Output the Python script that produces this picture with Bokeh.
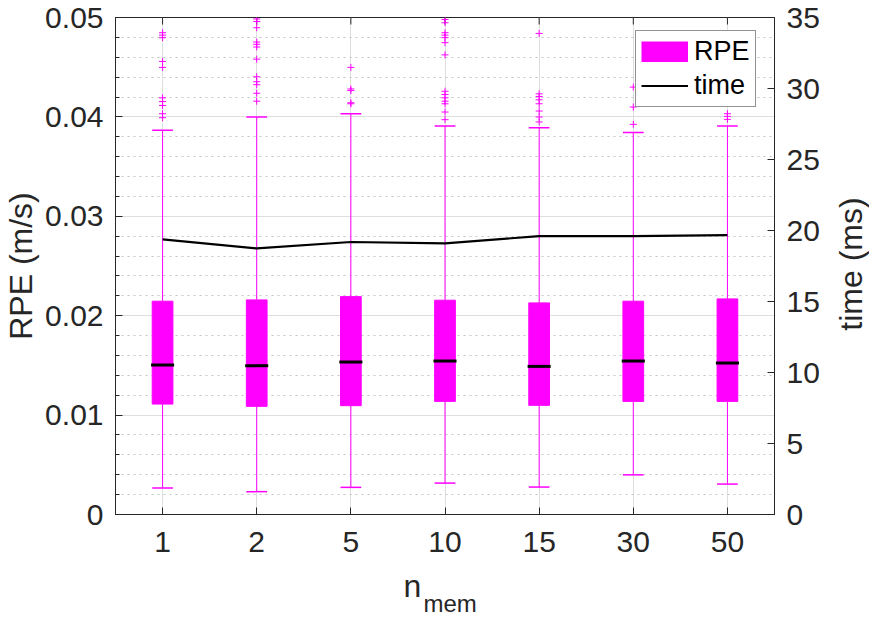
from bokeh.plotting import figure
from bokeh.layouts import column, row
from bokeh.models import (FactorRange, Range1d, LinearAxis,
                          SingleIntervalTicker, ColumnDataSource, Legend,
                          LegendItem, Label)
from bokeh.embed import file_html
from bokeh.resources import INLINE

# ---------------- data ----------------
categories = ["1", "2", "5", "10", "15", "30", "50"]
q1 = [0.01111, 0.01088, 0.01095, 0.01138, 0.01098, 0.01138, 0.01138]
median = [0.01504, 0.01497, 0.01534, 0.01544, 0.01490, 0.01544, 0.01524]
q3 = [0.02146, 0.02159, 0.02192, 0.02156, 0.02129, 0.02146, 0.02169]
whisker_low = [0.00266, 0.00230, 0.00273, 0.00316, 0.00276, 0.00399, 0.00306]
whisker_high = [0.03865, 0.03999, 0.04032, 0.03909, 0.03892, 0.03842, 0.03909]
time_ms = [19.37, 18.74, 19.19, 19.09, 19.61, 19.61, 19.68]

outliers_1 = [0.04847, 0.04823, 0.04797, 0.04558, 0.04498, 0.04192, 0.04155,
              0.04115, 0.04032, 0.03992]
outliers_2 = [0.04985, 0.04960, 0.04897, 0.04753, 0.04730, 0.04703, 0.04581,
              0.04404, 0.04354, 0.04324, 0.04238, 0.04158]
outliers_5 = [0.04498, 0.04281, 0.04265, 0.04142, 0.04132]
outliers_10 = [0.04980, 0.04947, 0.04847, 0.04823, 0.04797, 0.04747, 0.04624,
               0.04258, 0.04225, 0.04192, 0.04158, 0.04132, 0.04049, 0.03972]
outliers_15 = [0.04840, 0.04232, 0.04205, 0.04172, 0.04132, 0.04059, 0.03999,
               0.03949]
outliers_30 = [0.04300, 0.04099, 0.03925]
outliers_50 = [0.04250, 0.04032, 0.04005, 0.03975]

rpe_limits = (0, 0.05)
time_limits = (0, 35)
y_ticks_step = 0.01
time_ticks_step = 5

MAGENTA = "#ff00ff"
AXC = "#262626"
FONT = "Liberation Sans"

# ---------------- main figure ----------------
p = figure(width=833, height=566,
           x_range=FactorRange(*categories),
           y_range=Range1d(*rpe_limits),
           output_backend="svg", toolbar_location=None,
           min_border_left=111, min_border_right=59,
           min_border_top=17, min_border_bottom=52)
p.extra_y_ranges = {"time": Range1d(*time_limits)}
p.outline_line_color = AXC
p.background_fill_color = "white"
p.border_fill_color = "white"

# grids
p.xgrid.grid_line_color = "#dedede"
p.ygrid.grid_line_color = "#dedede"
p.ygrid.minor_grid_line_color = "#c4c4c4"
p.ygrid.minor_grid_line_dash = "2 4"

# left axis
yax = p.yaxis[0]
yax.ticker = SingleIntervalTicker(interval=y_ticks_step, num_minor_ticks=5)
yax.major_label_overrides = {0: "0"}
yax.axis_label = "RPE (m/s)"
yax.axis_label_text_font = FONT
yax.axis_label_text_font_size = "32px"
yax.axis_label_text_font_style = "normal"
yax.axis_label_text_color = AXC
yax.axis_label_standoff = 3

for ax in (yax, p.xaxis[0]):
    ax.major_label_text_font = FONT
    ax.major_label_text_font_size = "30px"
    ax.major_label_text_color = AXC
    ax.major_tick_in = 7
    ax.major_tick_out = 0
    ax.minor_tick_in = 4
    ax.minor_tick_out = 0
    ax.axis_line_color = AXC
    ax.major_tick_line_color = AXC
    ax.minor_tick_line_color = AXC
    ax.major_label_standoff = 12

p.xaxis[0].major_label_standoff = 17

# right axis
rax = LinearAxis(y_range_name="time",
                 ticker=SingleIntervalTicker(interval=time_ticks_step, num_minor_ticks=0))
rax.major_label_text_font = FONT
rax.major_label_text_font_size = "30px"
rax.major_label_text_color = AXC
rax.major_tick_in = 7
rax.major_tick_out = 0
rax.minor_tick_line_color = None
rax.axis_line_color = AXC
rax.major_tick_line_color = AXC
rax.major_label_standoff = 12
p.add_layout(rax, "right")

# ---------------- glyphs ----------------
src = ColumnDataSource(dict(cat=categories, q1=q1, med=median, q3=q3,
                            lo=whisker_low, hi=whisker_high, t=time_ms,
                            top=[rpe_limits[1]] * len(categories)))

# tick marks on the top edge of the box (half of each rect is clipped away)
p.rect(x="cat", y="top", width=1, width_units="screen", height=14,
       height_units="screen", source=src, fill_color=AXC, line_color=None)

p.segment(x0="cat", y0="q3", x1="cat", y1="hi", source=src,
          line_color=MAGENTA, line_width=1)
p.segment(x0="cat", y0="lo", x1="cat", y1="q1", source=src,
          line_color=MAGENTA, line_width=1)
p.vbar(x="cat", width=0.22, bottom="q1", top="q3", source=src,
       fill_color=MAGENTA, line_color=MAGENTA, line_width=1)
p.rect(x="cat", y="hi", width=0.22, height=1.5, height_units="screen",
       source=src, fill_color=MAGENTA, line_color=None)
p.rect(x="cat", y="lo", width=0.22, height=1.5, height_units="screen",
       source=src, fill_color=MAGENTA, line_color=None)
p.rect(x="cat", y="med", width=0.245, height=3, height_units="screen",
       source=src, fill_color="black", line_color=None)

out_groups = [outliers_1, outliers_2, outliers_5, outliers_10,
              outliers_15, outliers_30, outliers_50]
ox, oy = [], []
for c, vals in zip(categories, out_groups):
    ox += [c] * len(vals)
    oy += vals
p.scatter(x=ox, y=oy, marker="cross", size=7, line_color=MAGENTA,
          line_width=1)

r_time = p.line(x="cat", y="t", source=src, y_range_name="time",
                line_color="black", line_width=2.2)
# legend proxy for the RPE boxes (single point -> nothing drawn in the plot)
r_rpe = p.line(x=[categories[0]], y=[-1.0], line_color=MAGENTA,
               line_width=21, line_cap="butt")

legend = Legend(items=[LegendItem(label="RPE", renderers=[r_rpe]),
                       LegendItem(label="time", renderers=[r_time])],
                location=(520, 407), glyph_width=47, glyph_height=21,
                label_text_font=FONT, label_text_font_size="27px",
                label_text_color="black", label_standoff=6,
                padding=5, spacing=3, margin=0,
                border_line_color=AXC, border_line_width=1,
                background_fill_color="white", background_fill_alpha=1)
p.add_layout(legend)


def text_panel(w, h, top=0, bottom=0):
    f = figure(width=w, height=h, output_backend="svg", toolbar_location=None,
               x_axis_location=None, y_axis_location=None,
               min_border_left=0, min_border_right=0,
               min_border_top=top, min_border_bottom=bottom,
               x_range=Range1d(0, 1), y_range=Range1d(0, 1))
    f.outline_line_color = None
    f.grid.visible = False
    f.background_fill_color = "white"
    f.border_fill_color = "white"
    return f


# right label panel: frame aligned with the main frame (y 17..514)
rfig = text_panel(36, 566, top=17, bottom=52)
rfig.add_layout(Label(x=17, y=250.5, x_units="screen", y_units="screen",
                      text="time (ms)", text_font=FONT, text_font_size="32px",
                      text_color=AXC, angle=90, angle_units="deg",
                      text_align="center", text_baseline="middle"))

# bottom label panel (y 566..617)
bfig = text_panel(869, 51)
bfig.add_layout(Label(x=403, y=32, x_units="screen", y_units="screen",
                      text="n", text_font=FONT, text_font_size="32px",
                      text_color=AXC, text_baseline="alphabetic",
                      text_align="left"))
bfig.add_layout(Label(x=423, y=14, x_units="screen", y_units="screen",
                      text="mem", text_font=FONT, text_font_size="24px",
                      text_color=AXC, text_baseline="alphabetic",
                      text_align="left"))

layout = column(row(p, rfig), bfig)
open("out.html", "w").write(file_html(layout, INLINE))
